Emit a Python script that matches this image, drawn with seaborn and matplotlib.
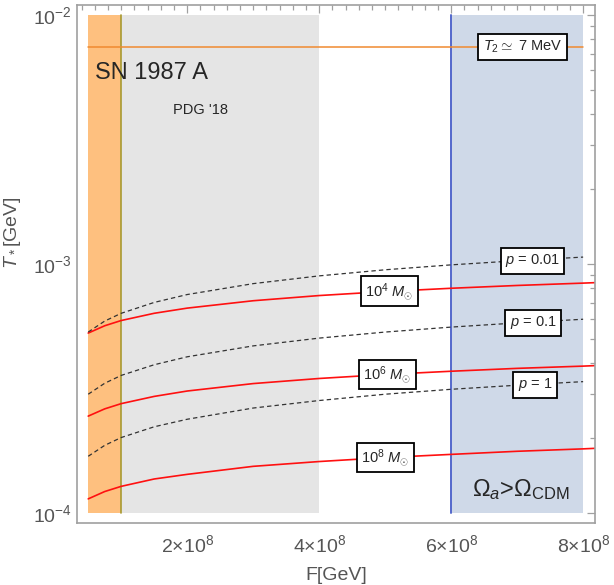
import numpy as np
import pandas as pd
import matplotlib
matplotlib.use("Agg")
import matplotlib.pyplot as plt
import seaborn as sns
from matplotlib.ticker import FixedLocator, FixedFormatter, LogLocator, NullFormatter

F = np.array([0.5, 0.75, 1.0, 1.5, 2.0, 3.0, 4.0, 5.0, 6.0, 7.0, 8.0]) * 1e8
F_red = np.append(F, 8.2e8)

# black-hole mass curves (red)
T_m4 = [5.28e-4, 5.65e-4, 5.93e-4, 6.34e-4, 6.65e-4, 7.12e-4, 7.47e-4, 7.75e-4, 7.99e-4, 8.20e-4, 8.38e-4, 8.42e-4]
T_m6 = [2.45e-4, 2.62e-4, 2.75e-4, 2.94e-4, 3.09e-4, 3.31e-4, 3.47e-4, 3.60e-4, 3.71e-4, 3.81e-4, 3.89e-4, 3.91e-4]
T_m8 = [1.14e-4, 1.22e-4, 1.28e-4, 1.37e-4, 1.43e-4, 1.54e-4, 1.61e-4, 1.67e-4, 1.72e-4, 1.77e-4, 1.81e-4, 1.82e-4]

# p curves (dashed)
T_p001 = [5.33e-4, 5.90e-4, 6.34e-4, 7.01e-4, 7.54e-4, 8.34e-4, 8.96e-4, 9.48e-4, 9.92e-4, 1.031e-3, 1.066e-3]
T_p01 = [3.00e-4, 3.32e-4, 3.57e-4, 3.94e-4, 4.24e-4, 4.69e-4, 5.04e-4, 5.33e-4, 5.58e-4, 5.80e-4, 6.00e-4]
T_p1 = [1.69e-4, 1.87e-4, 2.01e-4, 2.22e-4, 2.38e-4, 2.64e-4, 2.83e-4, 3.00e-4, 3.14e-4, 3.26e-4, 3.37e-4]

T2 = 7.44e-3
sn_band = (0.5e8, 1e8)
pdg_band = (1e8, 4e8)
cdm_band = (6e8, 8e8)
y_band = (1e-4, 1e-2)

xticks = [2e8, 4e8, 6e8, 8e8]
xticklabels = [r"$2{\times}10^8$", r"$4{\times}10^8$", r"$6{\times}10^8$", r"$8{\times}10^8$"]

sns.set_style("white")
plt.rcParams["font.family"] = ["Liberation Sans", "DejaVu Sans"]
plt.rcParams["mathtext.fontset"] = "custom"
plt.rcParams["mathtext.rm"] = "Liberation Sans"
plt.rcParams["mathtext.it"] = "Liberation Sans:italic"
plt.rcParams["mathtext.bf"] = "Liberation Sans:bold"

fig = plt.figure(figsize=(6.14, 5.85), dpi=100)
ax = fig.add_axes([77 / 614, 1 - 523 / 585, 518 / 614, 518 / 585])

# shaded regions
ax.fill_between(sn_band, *y_band, color="#FEC07F", lw=0, zorder=0)
ax.fill_between(pdg_band, *y_band, color="#E5E5E5", lw=0, zorder=0)
ax.fill_between(cdm_band, *y_band, color="#CFD9E8", lw=0, zorder=0)
ax.plot([sn_band[1]] * 2, y_band, color="#A89A30", lw=1.2, zorder=1)
ax.plot([cdm_band[0]] * 2, y_band, color="#5468CC", lw=1.4, zorder=1)
ax.plot([sn_band[0], cdm_band[1]], [T2, T2], color="#F08A30", lw=1.1, zorder=1)

red = pd.DataFrame({"F": np.tile(F_red, 3), "T": T_m4 + T_m6 + T_m8,
                    "curve": ["m4"] * 12 + ["m6"] * 12 + ["m8"] * 12})
dash = pd.DataFrame({"F": np.tile(F, 3), "T": T_p001 + T_p01 + T_p1,
                     "curve": ["p001"] * 11 + ["p01"] * 11 + ["p1"] * 11})

sns.lineplot(data=red, x="F", y="T", units="curve", estimator=None, color="#FF1010",
             lw=1.2, ax=ax, zorder=2)
sns.lineplot(data=dash, x="F", y="T", units="curve", estimator=None, color="#333333",
             lw=0.9, dashes=False, ax=ax, zorder=2)
for line in ax.lines[-3:]:
    line.set_dashes([3.5, 2.5])

ax.set_yscale("log")
ax.set_xlim(0.33e8, 8.18e8)
ax.set_ylim(10 ** -4.04, 10 ** -1.96)

box = dict(boxstyle="square,pad=0.3", fc="white", ec="black", lw=1.3)
lab = dict(ha="center", va="center", fontsize=10.5, bbox=box, zorder=5)
ax.text(5.06e8, 7.77e-4, r"$10^4\ M_{\odot}$", **lab)
ax.text(5.03e8, 3.60e-4, r"$10^6\ M_{\odot}$", **lab)
ax.text(5.0e8, 1.67e-4, r"$10^8\ M_{\odot}$", **lab)
ax.text(7.23e8, 1.03e-3, r"$p$ = 0.01", **lab)
ax.text(7.24e8, 5.80e-4, r"$p$ = 0.1", **lab)
ax.text(7.27e8, 3.27e-4, r"$p$ = 1", **lab)
ax.text(7.08e8, T2, r"$T_2 \simeq$ 7 MeV", **lab)

ax.text(0.6e8, 5.85e-3, "SN 1987 A", fontsize=17, ha="left", va="center", zorder=5)
ax.text(2.2e8, 4.16e-3, "PDG '18", fontsize=10.5, ha="center", va="center", zorder=5)
ax.text(7.05e8, 1.24e-4, r"$\Omega_a$>$\Omega_{\mathrm{CDM}}$", fontsize=17,
        ha="center", va="center", zorder=5)

# axes styling
for s in ax.spines.values():
    s.set_color("#A0A0A0")
    s.set_linewidth(1.2)
ax.xaxis.set_major_locator(FixedLocator(xticks))
ax.xaxis.set_major_formatter(FixedFormatter(xticklabels))
ax.xaxis.set_minor_locator(FixedLocator(np.arange(0.4e8, 8.2e8, 0.2e8)))
ax.yaxis.set_major_locator(LogLocator(base=10, numticks=10))
ax.yaxis.set_minor_locator(LogLocator(base=10, subs=np.arange(2, 10), numticks=20))
ax.yaxis.set_minor_formatter(NullFormatter())
ax.tick_params(which="both", direction="in", top=True, right=True, color="#A0A0A0",
               labelcolor="#555555", labelsize=14, width=0.9)
ax.tick_params(which="major", length=6)
ax.tick_params(which="minor", length=3.5)
ax.tick_params(axis="x", which="both", pad=8)

ax.set_xlabel("F[GeV]", fontsize=14, color="#555555")
ax.set_ylabel(r"$T_*$[GeV]", fontsize=14, color="#555555")
ax.yaxis.set_label_coords(-0.105, 0.56)
ax.xaxis.set_label_coords(0.5, -0.085)

fig.savefig("out.png", dpi=100)
